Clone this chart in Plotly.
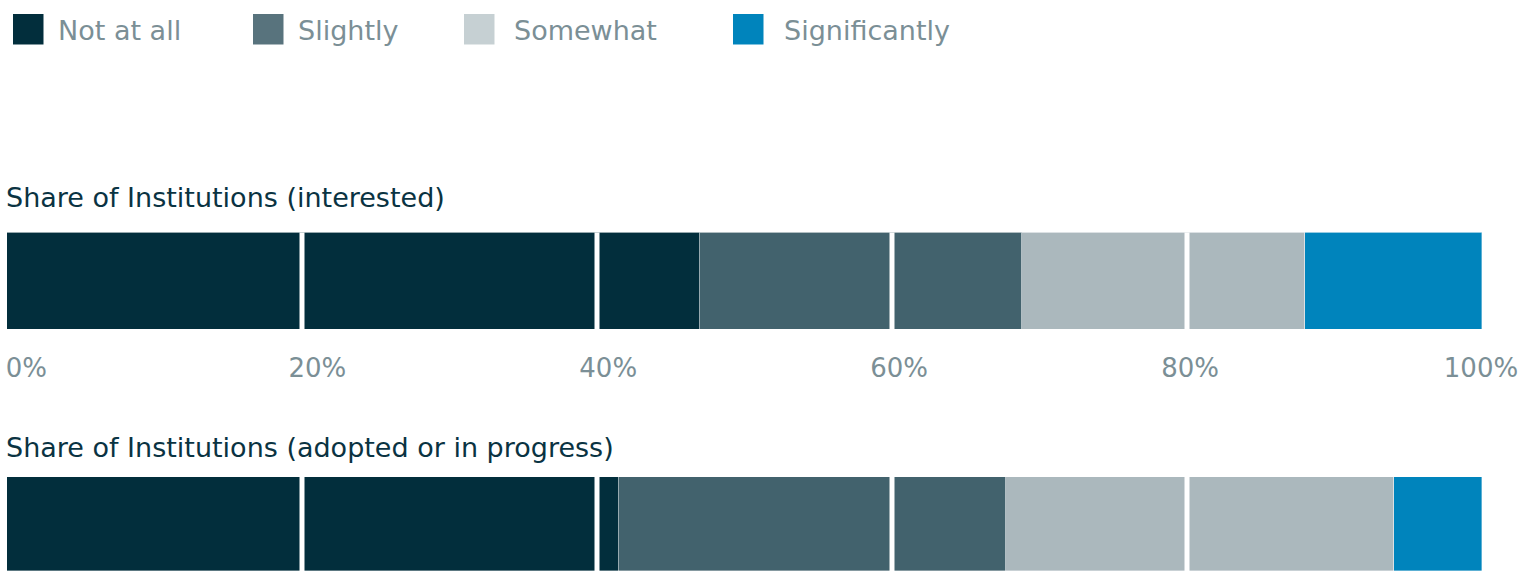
import plotly.graph_objects as go

# data
categories = ["Not at all", "Slightly", "Somewhat", "Significantly"]
bar_names = ["Share of Institutions (interested)",
             "Share of Institutions (adopted or in progress)"]
interested = [47.0, 21.8, 19.2, 12.0]
adopted = [41.5, 26.2, 26.3, 6.0]
tick_vals = [0, 20, 40, 60, 80, 100]
tick_text = ["0%", "20%", "40%", "60%", "80%", "100%"]

# colours
bar_colors = ["#022e3c", "#42626d", "#abb8bd", "#0084bc"]
legend_colors = ["#022e3c", "#58737d", "#c6d0d3", "#0084bc"]
title_color = "#0a3342"
label_color = "#7b8f96"
FONT = "DejaVu Sans"

W, H = 1526, 571
ML, MR = 7, 44
PW = W - ML - MR


def px_x(p):
    return (p - ML) / PW


def px_y(p):
    return 1 - p / H


fig = go.Figure()

series = [interested, adopted]
axes = [("x", "y"), ("x2", "y2")]
title_shift = [18, 12]
for s, (xa, ya) in enumerate(axes):
    for i, cat in enumerate(categories):
        fig.add_trace(go.Bar(
            x=[series[s][i]], y=[bar_names[s]], orientation="h",
            name=cat, xaxis=xa, yaxis=ya, showlegend=False,
            marker=dict(color=bar_colors[i],
                        line=dict(color="rgba(255,255,255,0.45)", width=0.8)),
            hoverinfo="x+name"))

    # white gaps at the gridlines, drawn over the bars
    for v in tick_vals[1:-1]:
        fig.add_shape(type="line", xref=xa, yref=f"{ya} domain",
                      x0=v, x1=v, y0=0, y1=1, layer="above",
                      line=dict(color="white", width=5))

    fig.add_annotation(text=bar_names[s], xref="paper", x=0, xanchor="left",
                       xshift=-3, yref=f"{ya} domain", y=1, yanchor="bottom",
                       yshift=title_shift[s], showarrow=False,
                       font=dict(family=FONT, size=27, color=title_color))

# invisible points so the label axis gets drawn
fig.add_trace(go.Scatter(x=tick_vals, y=[bar_names[0]] * len(tick_vals),
                         xaxis="x3", yaxis="y", mode="markers",
                         marker=dict(opacity=0), hoverinfo="skip",
                         showlegend=False))

# legend built by hand (big square swatches)
legend_x = [13, 253, 464, 733]
legend_text_x = [55.5, 295.5, 511.5, 781.5]
for i, cat in enumerate(categories):
    fig.add_shape(type="rect", xref="paper", yref="paper",
                  xsizemode="pixel", ysizemode="pixel",
                  xanchor=px_x(legend_x[i]), yanchor=px_y(14),
                  x0=0, x1=30.5, y0=0, y1=-30.5,
                  fillcolor=legend_colors[i], line=dict(width=0))
    fig.add_annotation(text=cat, xref="paper", x=px_x(legend_text_x[i]),
                       xanchor="left", yref="paper", y=px_y(30.5),
                       yanchor="middle", showarrow=False,
                       font=dict(family=FONT, size=27, color=label_color))

fig.update_layout(
    width=W, height=H, autosize=False,
    margin=dict(l=ML, r=MR, t=0, b=0),
    barmode="stack", bargap=0,
    plot_bgcolor="white", paper_bgcolor="white",
    showlegend=False,
    font=dict(family=FONT),
    xaxis=dict(domain=[0, 1], range=[0, 100], anchor="y", visible=False),
    yaxis=dict(domain=[px_y(329.3), px_y(232.5)], visible=False),
    xaxis2=dict(domain=[0, 1], range=[0, 100], anchor="y2", visible=False),
    yaxis2=dict(domain=[0, px_y(477)], visible=False),
    # axis carrying the percentage labels between the bars
    xaxis3=dict(overlaying="x", anchor="y", side="bottom",
                range=[-1.33, 100.07], tickvals=tick_vals, ticktext=tick_text,
                showgrid=False, zeroline=False, showline=False, ticks="",
                ticklabelstandoff=21,
                tickfont=dict(family=FONT, size=26, color=label_color)),
)

fig.write_html("out.html", config={"displayModeBar": False},
               post_script="document.body.style.margin = '0';")
